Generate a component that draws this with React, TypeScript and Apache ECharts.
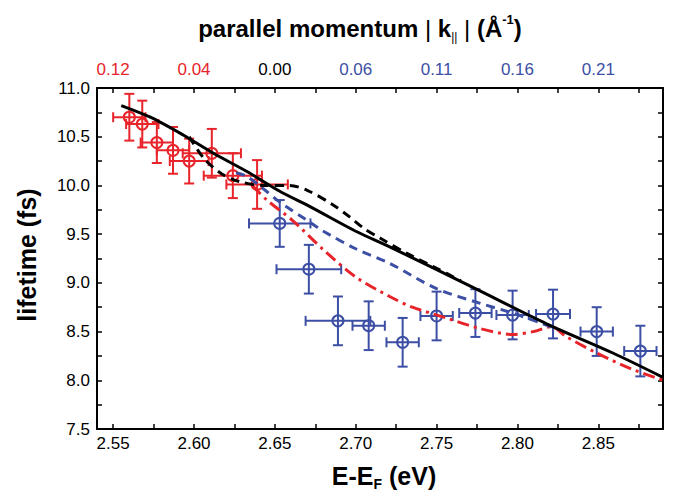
import React, { useEffect, useRef } from 'react';
import * as echarts from 'echarts';

// ---- measured data (E-E_F in eV, lifetime in fs) ----
const redEnergy = [2.560, 2.568, 2.577, 2.587, 2.597, 2.611, 2.624, 2.639];
const redLifetime = [10.70, 10.63, 10.44, 10.36, 10.25, 10.33, 10.10, 10.01];
const redEnergyErr = [0.010, 0.010, 0.010, 0.010, 0.012, 0.018, 0.018, 0.019];
const redLifetimeErr = [0.24, 0.24, 0.21, 0.24, 0.23, 0.25, 0.23, 0.25];

const blueEnergy = [2.653, 2.671, 2.689, 2.708, 2.729, 2.750, 2.774, 2.797, 2.822, 2.849, 2.876];
const blueLifetime = [9.61, 9.14, 8.61, 8.56, 8.39, 8.66, 8.69, 8.67, 8.68, 8.50, 8.30];
const blueEnergyErr = [0.019, 0.020, 0.020, 0.010, 0.010, 0.010, 0.010, 0.010, 0.0105, 0.010, 0.010];
const blueLifetimeErr = [0.24, 0.25, 0.25, 0.25, 0.25, 0.25, 0.245, 0.25, 0.25, 0.25, 0.26];

// ---- model curves ----
const solidEnergy = [2.555, 2.573, 2.593, 2.612, 2.633, 2.653, 2.672, 2.700, 2.721, 2.774, 2.818, 2.859, 2.890];
const solidLifetime = [10.82, 10.70, 10.52, 10.33, 10.14, 9.94, 9.78, 9.53, 9.37, 8.94, 8.58, 8.28, 8.03];

const blackDashEnergy = [2.597, 2.606, 2.617, 2.628, 2.643, 2.659, 2.670, 2.686, 2.696, 2.705, 2.715, 2.732, 2.750, 2.765];
const blackDashLifetime = [10.50, 10.28, 10.12, 10.04, 10.00, 10.00, 9.95, 9.80, 9.68, 9.56, 9.46, 9.30, 9.15, 9.02];

const blueDashEnergy = [2.626, 2.633, 2.644, 2.653, 2.670, 2.680, 2.700, 2.721, 2.750, 2.777, 2.797, 2.814, 2.825];
const blueDashLifetime = [10.13, 10.09, 9.95, 9.83, 9.64, 9.53, 9.35, 9.20, 8.94, 8.79, 8.69, 8.59, 8.52];

const redDashDotEnergy = [2.636, 2.645, 2.661, 2.680, 2.700, 2.721, 2.735, 2.756, 2.777, 2.797, 2.810, 2.821, 2.830, 2.849, 2.870, 2.890];
const redDashDotLifetime = [10.00, 9.85, 9.64, 9.34, 9.06, 8.86, 8.75, 8.64, 8.53, 8.47, 8.50, 8.55, 8.45, 8.28, 8.12, 8.00];

// ---- axes ----
const energyTicks = [2.55, 2.575, 2.6, 2.625, 2.65, 2.675, 2.7, 2.725, 2.75, 2.775, 2.8, 2.825, 2.85, 2.875];
const energyLabels = [2.55, 2.6, 2.65, 2.7, 2.75, 2.8, 2.85];
const momentumLabels = ['0.12', '0.04', '0.00', '0.06', '0.11', '0.16', '0.21'];
const momentumLabelStyle = ['r', 'r', 'k', 'b', 'b', 'b', 'b'];

const RED = '#e8242b';
const BLUE = '#3c4fa5';
const FONT = 'Liberation Sans, Arial, Helvetica, sans-serif';

const zip = (a: number[], b: number[]) => a.map((v, i) => [v, b[i]]);
const zip4 = (a: number[], b: number[], c: number[], d: number[]) => a.map((v, i) => [v, b[i], c[i], d[i]]);

function errorRenderer(color: string) {
  return (params: any, api: any) => {
    const x = api.value(0), y = api.value(1), ex = api.value(2), ey = api.value(3);
    const c = api.coord([x, y]);
    const l = api.coord([x - ex, y]);
    const r = api.coord([x + ex, y]);
    const t = api.coord([x, y + ey]);
    const b = api.coord([x, y - ey]);
    const cap = 5;
    const style = { stroke: color, lineWidth: 2, fill: 'none' };
    return {
      type: 'group',
      children: [
        { type: 'line', shape: { x1: l[0], y1: c[1], x2: r[0], y2: c[1] }, style },
        { type: 'line', shape: { x1: c[0], y1: t[1], x2: c[0], y2: b[1] }, style },
        { type: 'line', shape: { x1: l[0], y1: c[1] - cap, x2: l[0], y2: c[1] + cap }, style },
        { type: 'line', shape: { x1: r[0], y1: c[1] - cap, x2: r[0], y2: c[1] + cap }, style },
        { type: 'line', shape: { x1: c[0] - cap, y1: t[1], x2: c[0] + cap, y2: t[1] }, style },
        { type: 'line', shape: { x1: c[0] - cap, y1: b[1], x2: c[0] + cap, y2: b[1] }, style },
        { type: 'circle', shape: { cx: c[0], cy: c[1], r: 5.5 }, style },
      ],
    };
  };
}

export default function App() {
  const ref = useRef<HTMLDivElement>(null);
  useEffect(() => {
    document.body.style.margin = '0';
    const chart = echarts.init(ref.current!, null, { renderer: 'svg' });
    const axisLine = { show: true, lineStyle: { color: '#000', width: 2 } };
    const tick = { show: true, inside: true, length: 5, lineStyle: { color: '#000', width: 1.5 } };
    const baseX = { type: 'value', min: 2.54, max: 2.89, splitLine: { show: false }, axisLine };
    const baseY = { type: 'value', min: 7.5, max: 11, interval: 0.5, splitLine: { show: false }, axisLine };
    const option: any = {
      animation: false,
      backgroundColor: '#fff',
      grid: { left: 97, right: 17, top: 88, bottom: 75 },
      xAxis: [
        {
          ...baseX,
          position: 'bottom',
          axisTick: { ...tick, customValues: energyTicks },
          axisLabel: {
            customValues: energyLabels,
            formatter: (v: number) => v.toFixed(2),
            color: '#000', fontSize: 17, fontFamily: FONT, margin: 6,
          },
        },
        {
          ...baseX,
          position: 'top',
          axisTick: { ...tick, customValues: energyTicks },
          axisLabel: {
            customValues: energyLabels,
            formatter: (v: number) => {
              const i = Math.round((v - 2.55) / 0.05);
              return `{${momentumLabelStyle[i]}|${momentumLabels[i]}}`;
            },
            rich: {
              r: { color: RED, fontSize: 17, fontFamily: FONT },
              k: { color: '#000', fontSize: 17, fontFamily: FONT },
              b: { color: BLUE, fontSize: 17, fontFamily: FONT },
            },
            fontSize: 17, fontFamily: FONT, margin: 10,
          },
        },
      ],
      yAxis: [
        {
          ...baseY,
          position: 'left',
          axisTick: tick,
          minorTick: { show: true, splitNumber: 2, length: 5, lineStyle: { color: '#000', width: 1.5 } },
          axisLabel: { formatter: (v: number) => v.toFixed(1), color: '#000', fontSize: 17, fontFamily: FONT, margin: 7 },
        },
        {
          ...baseY,
          position: 'right',
          axisTick: tick,
          minorTick: { show: true, splitNumber: 2, length: 5, lineStyle: { color: '#000', width: 1.5 } },
          axisLabel: { show: false },
        },
      ],
      series: [
        {
          type: 'custom', name: 'red data', renderItem: errorRenderer(RED),
          data: zip4(redEnergy, redLifetime, redEnergyErr, redLifetimeErr),
          encode: { x: 0, y: 1 }, z: 2,
        },
        {
          type: 'custom', name: 'blue data', renderItem: errorRenderer(BLUE),
          data: zip4(blueEnergy, blueLifetime, blueEnergyErr, blueLifetimeErr),
          encode: { x: 0, y: 1 }, z: 2,
        },
        {
          type: 'line', name: 'red model', data: zip(redDashDotEnergy, redDashDotLifetime),
          showSymbol: false, smooth: 0.3, z: 3,
          lineStyle: { color: RED, width: 3, type: [12, 5, 3, 5] },
        },
        {
          type: 'line', name: 'blue model', data: zip(blueDashEnergy, blueDashLifetime),
          showSymbol: false, smooth: 0.3, z: 3,
          lineStyle: { color: BLUE, width: 3, type: [9, 6] },
        },
        {
          type: 'line', name: 'black dashed model', data: zip(blackDashEnergy, blackDashLifetime),
          showSymbol: false, smooth: 0.3, z: 4,
          lineStyle: { color: '#000', width: 3, type: [9, 6] },
        },
        {
          type: 'line', name: 'black model', data: zip(solidEnergy, solidLifetime),
          showSymbol: false, smooth: 0.3, z: 5,
          lineStyle: { color: '#000', width: 3 },
        },
      ],
      graphic: [
        {
          type: 'text', x: 360, y: 28,
          style: {
            text: 'parallel momentum {bar||} k{sub|||} {bar||} (Å{sup|-1})',
            align: 'center', verticalAlign: 'middle',
            fontSize: 24, fontWeight: 'bold', fontFamily: FONT, lineHeight: 30, fill: '#000',
            rich: {
              bar: { fontSize: 24, fontWeight: 'normal', fontFamily: FONT, lineHeight: 30 },
              sub: { fontSize: 12, fontWeight: 'normal', fontFamily: FONT, lineHeight: 12, verticalAlign: 'bottom' },
              sup: { fontSize: 13, fontWeight: 'bold', fontFamily: FONT, lineHeight: 14, verticalAlign: 'top' },
            },
          },
        },
        {
          type: 'text', x: 384, y: 476,
          style: {
            text: 'E-E{sub|F} (eV)',
            align: 'center', verticalAlign: 'middle',
            fontSize: 25, fontWeight: 'bold', fontFamily: FONT, lineHeight: 30, fill: '#000',
            rich: {
              sub: { fontSize: 14, fontWeight: 'bold', fontFamily: FONT, lineHeight: 14, verticalAlign: 'bottom' },
            },
          },
        },
        {
          type: 'text', x: 27, y: 255, rotation: Math.PI / 2,
          style: {
            text: 'lifetime (fs)',
            align: 'center', verticalAlign: 'middle',
            fontSize: 25, fontWeight: 'bold', fontFamily: FONT, fill: '#000',
          },
        },
      ],
    };
    chart.setOption(option);
    return () => chart.dispose();
  }, []);
  return <div ref={ref} style={{ width: 680, height: 504, position: 'absolute', left: 0, top: 0 }} />;
}
